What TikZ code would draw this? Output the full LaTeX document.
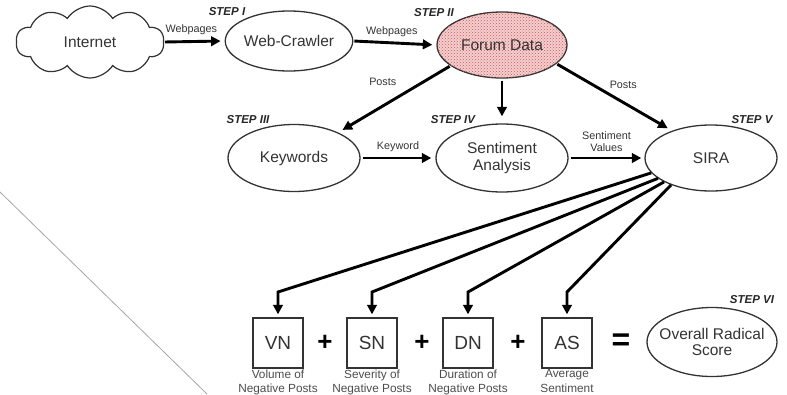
\documentclass[tikz,border=0pt]{standalone}
\usepackage{fontspec}
\setmainfont{Liberation Sans}
\usetikzlibrary{shapes.geometric,shapes.symbols,arrows.meta,patterns}
\definecolor{ink}{HTML}{333333}
\definecolor{fdfill}{HTML}{F4CFCF}
\definecolor{fddot}{HTML}{D05858}
\begin{document}
\begin{tikzpicture}[x=1pt,y=-1pt,
  every node/.style={text=ink},
  ell/.style={ellipse,draw=ink,line width=1.3pt,minimum width=132pt,minimum height=66pt,inner sep=0pt,font=\fontsize{15.5}{16.5}\selectfont,align=center},
  steplbl/.style={font=\fontsize{11.5}{12}\selectfont\bfseries\itshape,text=black!85},
  lbl/.style={font=\fontsize{10.8}{12}\selectfont,align=center},
  arr/.style={line width=2.9pt,-{Triangle[length=9.5pt,width=9.5pt]},black},
  vbox/.style={draw=ink,line width=1.3pt,minimum width=50pt,minimum height=50pt,inner sep=0pt,font=\fontsize{19}{20}\selectfont},
  sub/.style={font=\fontsize{11.8}{14.5}\selectfont,align=center,text=black!70,inner sep=0pt},
  op/.style={font=\fontsize{26}{26}\selectfont\bfseries,text=black,inner sep=0pt}
]
\useasboundingbox (0,0) rectangle (787,394);
\draw[black!35,line width=0.8pt] (0,192) -- (207,394);

% nodes
\node[cloud, cloud puffs=10, cloud puff arc=115, aspect=2.1, draw=ink, line width=1.2pt,
      minimum width=148pt, minimum height=72pt, inner sep=0pt,
      font=\fontsize{15.5}{16.5}\selectfont] (inet) at (90,42) {Internet};
\node[ell, minimum width=120pt, minimum height=60pt] (wc) at (289,41) {Web-Crawler};
\node[ell, minimum width=130pt, minimum height=66pt, fill=fdfill,
      postaction={pattern=crosshatch dots, pattern color=fddot}] (fd) at (502,45) {Forum Data};
\node[ell, minimum height=67pt] (kw) at (294,158) {Keywords};
\node[ell, minimum height=68pt] (sa) at (502,158) {Sentiment\\Analysis};
\node[ell] (sira) at (711,158) {SIRA};
\node[ell, minimum width=130pt, minimum height=69pt, inner xsep=-14pt] (ors) at (712,342) {Overall Radical\\Score};

\node[steplbl] (s1) at (227,12) {STEP I};
\node[steplbl] (s2) at (434,13) {STEP II};
\node[steplbl] (s3) at (248,120) {STEP III};
\node[steplbl] (s4) at (453,120) {STEP IV};
\node[steplbl] (s5) at (752,120) {STEP V};
\node[steplbl] (s6) at (752,300) {STEP VI};

\node[vbox] (vn) at (278,343) {VN};
\node[vbox] (sn) at (372,343) {SN};
\node[vbox] (dn) at (468,343) {DN};
\node[vbox] (as) at (567,343) {AS};
\node[op] (p1) at (325,343) {+};
\node[op] (p2) at (422,343) {+};
\node[op] (p3) at (518,343) {+};
\node[op, font=\fontsize{32}{32}\selectfont\bfseries] (eq) at (621,342) {=};

\node[sub, anchor=north] (vnl) at ([yshift=-1pt]vn.south) {Volume of\\Negative Posts};
\node[sub, anchor=north] (snl) at ([yshift=-1pt]sn.south) {Severity of\\Negative Posts};
\node[sub, anchor=north] (dnl) at ([yshift=-1pt]dn.south) {Duration of\\Negative Posts};
\node[sub, anchor=north] (asl) at ([yshift=-1pt]as.south) {Average\\Sentiment};

% connectors
\draw[arr, shorten <=1pt, shorten >=4pt] (inet.east) -- node[lbl, above=1.5pt, xshift=-3pt] {Webpages} (wc.west);
\draw[arr, shorten <=1pt, shorten >=4pt] (wc.east) -- node[lbl, above=1.5pt, xshift=-3pt] {Webpages} (fd.west);
\draw[arr, shorten <=1pt, shorten >=5pt] (fd.202) -- node[lbl, pos=0.3, xshift=-34pt, yshift=4pt] {Posts} (kw.30);
\draw[arr, shorten <=2pt, shorten >=7pt] (fd.south) -- (sa.north);
\draw[arr, shorten <=1pt, shorten >=5pt] (fd.-19) -- node[lbl, pos=0.5, xshift=9pt, yshift=12pt] {Posts} (sira.145);
\draw[arr, shorten <=2pt, shorten >=4pt] (kw.east) -- node[lbl, above=1.5pt] {Keyword} (sa.west);
\draw[arr, shorten <=2pt, shorten >=3pt] (sa.east) -- node[lbl, above=1.5pt] {Sentiment\\Values} (sira.west);

\coordinate (c1) at (278,292);
\coordinate (c2) at (372,292);
\coordinate (c3) at (468,292);
\coordinate (c4) at (567,292);
\draw[arr, shorten >=3pt] (sira.194) -- (c1) -- (vn.north);
\draw[arr, shorten >=3pt] (sira.201) -- (c2) -- (sn.north);
\draw[arr, shorten >=3pt] (sira.207) -- (c3) -- (dn.north);
\draw[arr, shorten >=3pt] (sira.214) -- (c4) -- (as.north);
\end{tikzpicture}
\end{document}
